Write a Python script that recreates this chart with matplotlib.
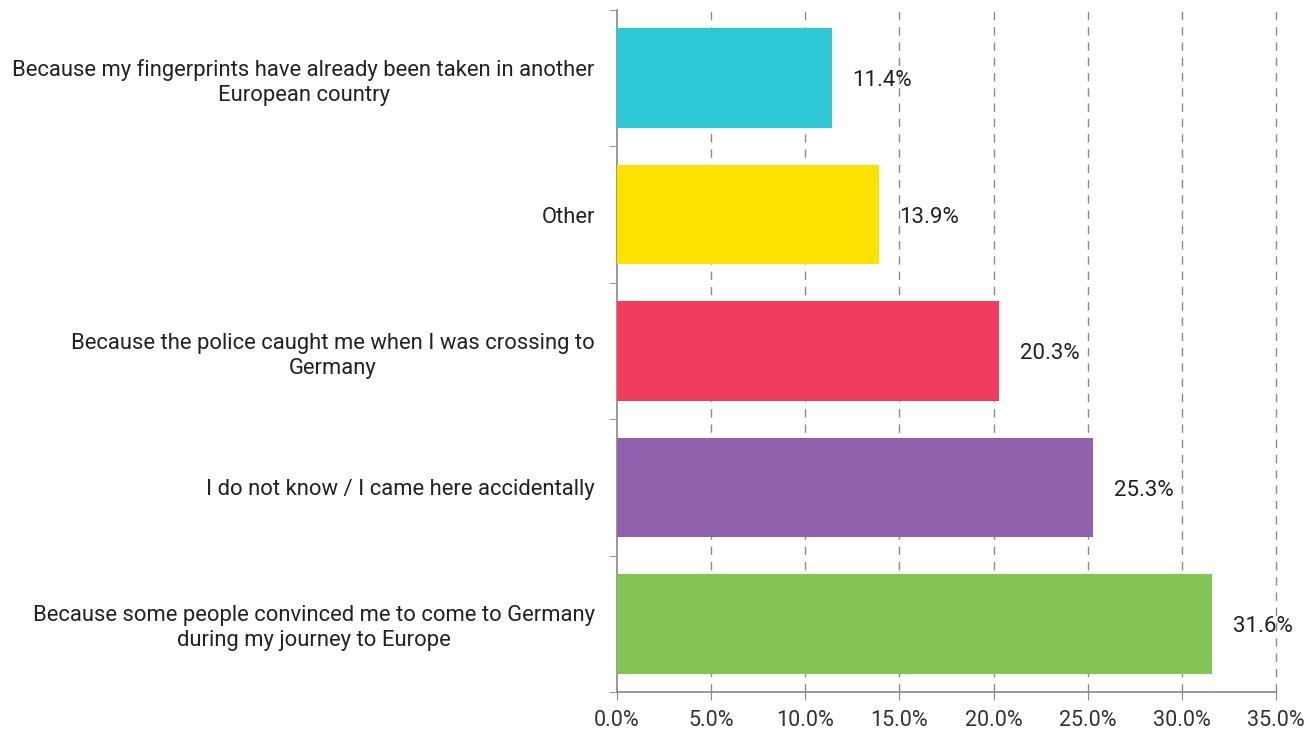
import matplotlib
matplotlib.use("Agg")
import matplotlib.pyplot as plt
from matplotlib.ticker import FixedLocator

categories = [
    "Because some people convinced me to come to Germany\nduring my journey to Europe",
    "I do not know / I came here accidentally",
    "Because the police caught me when I was crossing to\nGermany",
    "Other",
    "Because my fingerprints have already been taken in another\nEuropean country",
]
values = [31.6, 25.3, 20.3, 13.9, 11.4]
colors = ["#84c356", "#9161ad", "#f03c5e", "#fde200", "#2fc8d6"]
xticks = [0, 5, 10, 15, 20, 25, 30, 35]
xticklabels = ["0.0%", "5.0%", "10.0%", "15.0%", "20.0%", "25.0%", "30.0%", "35.0%"]

plt.rcParams["font.family"] = ["Roboto", "DejaVu Sans"]

fig = plt.figure(figsize=(13.16, 7.31), dpi=100)
ax = fig.add_axes([617/1316, 1 - 692/731, (1276-617)/1316, (692-10)/731])

ypos = list(range(len(categories)))
ax.barh(ypos, values, height=0.73, color=colors, zorder=3)
ax.set_xlim(0, 35)
ax.set_ylim(-0.5, len(categories) - 0.5)

ax.set_xticks(xticks)
ax.set_xticklabels(xticklabels, fontsize=15.5, color="#333333")
ax.set_yticks(ypos)
ax.set_yticklabels(categories, fontsize=15.8, color="#222222", ha="right",
                   multialignment="center", linespacing=1.25)
ax.tick_params(axis="y", length=0, pad=16)
ax.yaxis.set_minor_locator(FixedLocator([i - 0.5 for i in range(len(categories) + 1)]))
ax.tick_params(axis="y", which="minor", length=6, color="#888888", direction="out")
ax.tick_params(axis="x", length=6, color="#888888", pad=7)

for xt in xticks[1:]:
    ax.axvline(xt, linestyle=(0, (6, 5)), color="#8a8a8a", linewidth=1, zorder=0, clip_on=False)
for s in ["top", "right"]:
    ax.spines[s].set_visible(False)
for s in ["left", "bottom"]:
    ax.spines[s].set_color("#888888")
    ax.spines[s].set_linewidth(1.2)

for y, v in zip(ypos, values):
    ax.annotate(f"{v:.1f}%", xy=(v, y), xytext=(15, -2), textcoords="offset points",
                va="center", ha="left", fontsize=16, color="#222222")

fig.savefig("out.png", dpi=100)
